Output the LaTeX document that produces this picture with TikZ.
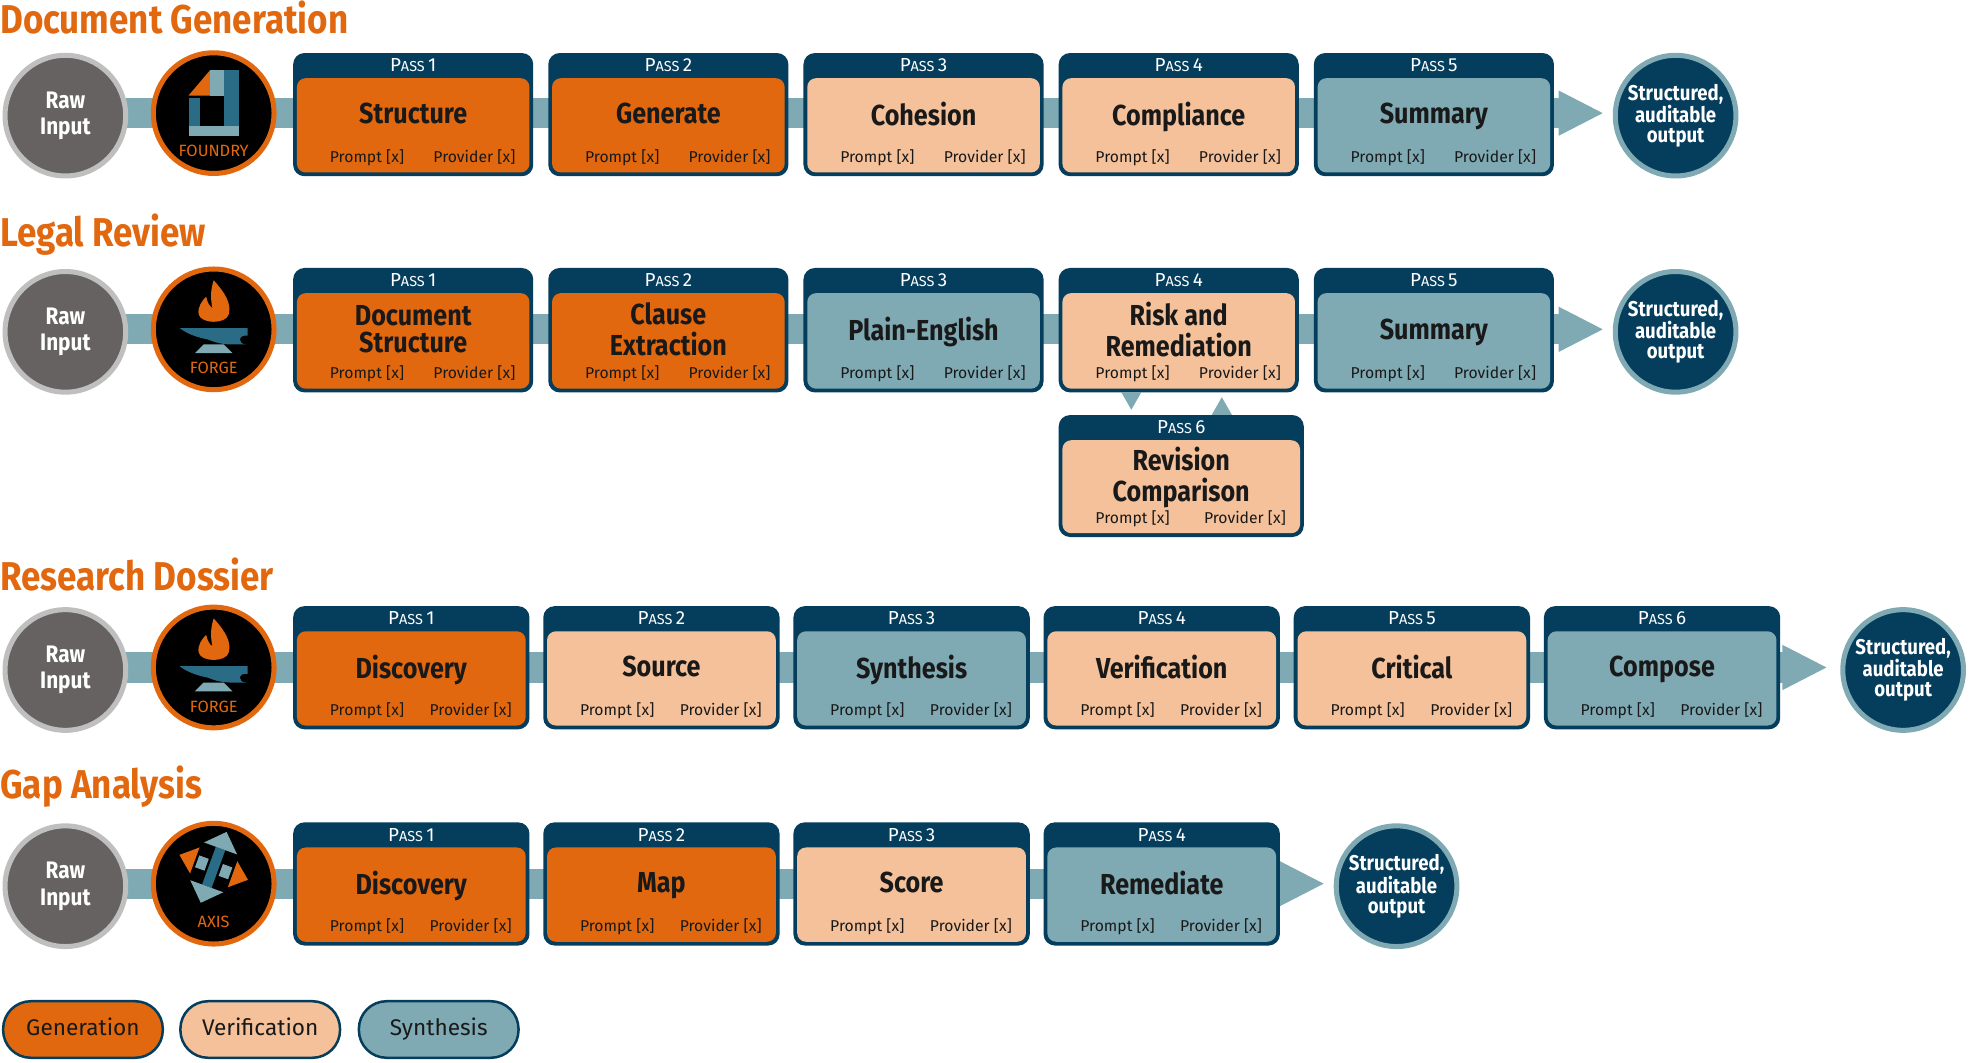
\documentclass[tikz,border=0pt]{standalone}
\usepackage{fontspec}
\setmainfont{Fira Sans}
\newfontfamily\cond{Fira Sans}[FakeStretch=0.87]
\usetikzlibrary{calc}
\definecolor{gen}{HTML}{E1680F}
\definecolor{ver}{HTML}{F4C19A}
\definecolor{syn}{HTML}{7FAAB3}
\definecolor{navy}{HTML}{053E5D}
\definecolor{rawg}{HTML}{666262}
\definecolor{rawb}{HTML}{BFBFBF}
\definecolor{dteal}{HTML}{2A6B86}
\tikzset{
 outer/.style={draw=none,fill=navy,rounded corners=9pt,inner sep=0},
 inner/.style={draw=none,rounded corners=7pt,inner sep=0},
 passlbl/.style={text=white,inner sep=0},
 ttl/.style={font=\cond\bfseries\fontsize{23}{21.5}\selectfont,align=center,inner sep=0,text=black!90},
 sm/.style={font=\fontsize{12.5}{12.5}\selectfont,inner sep=0,text=black!90},
 rawc/.style={circle,fill=rawg,draw=rawb,line width=4pt,minimum size=96pt,text=white,font=\cond\bfseries\fontsize{19}{21}\selectfont,align=center},
 iconc/.style={circle,fill=black,draw=gen,line width=4pt,minimum size=96pt},
 outc/.style={circle,fill=navy,draw=syn,line width=4pt,minimum size=96pt,text=white,font=\cond\bfseries\fontsize{17}{16}\selectfont,align=center,inner sep=0},
 band/.style={draw=syn,line width=24pt},
 sec/.style={anchor=west,text=gen,font=\cond\bfseries\fontsize{32}{32}\selectfont,inner sep=0},
 iconlbl/.style={text=gen,font=\fontsize{13}{13}\selectfont,inner sep=0},
 pill/.style={draw=navy,line width=2pt,rounded corners=22pt,minimum width=127pt,minimum height=45pt,font=\fontsize{18}{18}\selectfont,text=black!90,text height=13pt,text depth=4pt}
}
\newcommand\passtxt[1]{{\fontsize{15}{15}\selectfont P}{\fontsize{11.5}{11.5}\selectfont ASS}\ {\fontsize{15}{15}\selectfont #1}}
\newcommand\pbox[8]{%
 \node[outer,minimum width=#4pt,minimum height=#5pt,anchor=north west] (#1) at (#2,#3) {};
 \node[inner,fill=#6,minimum width=#4pt-6pt,minimum height=#5pt-23pt,anchor=south] (#1i) at ([yshift=3pt]#1.south) {};
 \node[passlbl] (#1p) at ([yshift=-10pt]#1.north) {\passtxt{#7}};
 \node[ttl] (#1t) at ([yshift=7pt]#1i.center) {\vphantom{Ag}#8\vphantom{Ag}};
 \node[sm,anchor=base] (#1a) at ([xshift=56pt,yshift=8pt]#1i.south west) {Prompt [x]};
 \node[sm,anchor=base] (#1b) at ([xshift=-44pt,yshift=8pt]#1i.south east) {Provider [x]};
}
\newcommand\foundry[1]{%
 \begin{scope}[shift={(#1)}]
 \fill[gen] (-20,-12) -- (-3,-32) -- (-3,-12) -- cycle;
 \fill[syn] (-3,-32) rectangle (8,-12);
 \fill[dteal] (8,-32) rectangle (20,12);
 \fill[dteal] (-20,-10) rectangle (-11,12);
 \fill[syn] (-20,12) rectangle (20,20);
 \end{scope}}
\newcommand\forge[1]{%
 \begin{scope}[shift={(#1)}]
 \fill[gen] (0,-33) .. controls (10,-22) and (14,-14) .. (12,-6) .. controls (10,2) and (-10,2) .. (-12,-6) .. controls (-13,-12) and (-9,-17) .. (-6,-20) .. controls (-5,-15) and (-3,-12) .. (-1,-11) .. controls (-3,-20) and (-2,-27) .. (0,-33) -- cycle;
 \fill[dteal] (-27,5) -- (27,5) -- (27,11) .. controls (19,10) and (19,18) .. (26,18) -- (14,18) .. controls (4,18) and (-2,15) .. (-5,14) .. controls (-15,12) and (-22,9) .. (-27,5) -- cycle;
 \fill[syn] (-8,18) -- (8,18) -- (15,25) -- (-15,25) -- cycle;
 \end{scope}}
\newcommand\axisicon[1]{%
 \begin{scope}[shift={(#1)},rotate=-20]
 \fill[dteal] (-4,-16) rectangle (4,16);
 \fill[syn] (-14,-16) -- (14,-16) -- (0,-30) -- cycle;
 \fill[syn] (-14,16) -- (14,16) -- (0,30) -- cycle;
 \fill[syn] (-14,-5) rectangle (-6,5);
 \fill[syn] (6,-5) rectangle (14,5);
 \fill[gen] (-16,-11) -- (-16,11) -- (-29,0) -- cycle;
 \fill[gen] (16,-11) -- (16,11) -- (29,0) -- cycle;
 \end{scope}}
\begin{document}
\begin{tikzpicture}[x=1pt,y=-1pt]
\useasboundingbox (0,0) rectangle (1568,845);
%%% Row 1
\node[sec] (s1) at (0,14) {Document Generation};
\draw[band] (52,90) -- (1242,90);
\fill[syn] (1240,72) -- (1275,90) -- (1240,108) -- cycle;
\node[rawc] (r1) at (52,92) {Raw\\Input};
\node[iconc] (i1) at (170,90) {};
\foundry{170,88}
\node[iconlbl] (l1) at (170,120) {FOUNDRY};
\pbox{a1}{233}{42}{191}{98}{gen}{1}{Structure}
\pbox{a2}{436}{42}{191}{98}{gen}{2}{Generate}
\pbox{a3}{639}{42}{191}{98}{ver}{3}{Cohesion}
\pbox{a4}{842}{42}{191}{98}{ver}{4}{Compliance}
\pbox{a5}{1045}{42}{191}{98}{syn}{5}{Summary}
\node[outc] (o1) at (1333,92) {Structured,\\auditable\\output};
%%% Row 2
\node[sec] (s2) at (0,187) {Legal Review};
\draw[band] (52,262) -- (1242,262);
\fill[syn] (1240,244) -- (1275,262) -- (1240,280) -- cycle;
\node[rawc] (r2) at (52,264) {Raw\\Input};
\node[iconc] (i2) at (170,262) {};
\forge{170,256}
\node[iconlbl] (l2) at (170,293) {FORGE};
\pbox{b1}{233}{213}{191}{99}{gen}{1}{Document\\Structure}
\pbox{b2}{436}{213}{191}{99}{gen}{2}{Clause\\Extraction}
\pbox{b3}{639}{213}{191}{99}{syn}{3}{Plain-English}
\pbox{b4}{842}{213}{191}{99}{ver}{4}{Risk and\\Remediation}
\pbox{b5}{1045}{213}{191}{99}{syn}{5}{Summary}
\node[outc] (o2) at (1333,264) {Structured,\\auditable\\output};
\pbox{b6}{842}{330}{195}{97}{ver}{6}{Revision\\Comparison}
\fill[syn] (892,312) -- (908,312) -- (900,326) -- cycle;
\fill[syn] (964,330) -- (980,330) -- (972,316) -- cycle;
%%% Row 3
\node[sec] (s3) at (0,457) {Research Dossier};
\draw[band] (52,531) -- (1420,531);
\fill[syn] (1418,513) -- (1453,531) -- (1418,549) -- cycle;
\node[rawc] (r3) at (52,533) {Raw\\Input};
\node[iconc] (i3) at (170,531) {};
\forge{170,525}
\node[iconlbl] (l3) at (170,562) {FORGE};
\pbox{c1}{233}{482}{188}{98}{gen}{1}{Discovery}
\pbox{c2}{432}{482}{188}{98}{ver}{2}{Source}
\pbox{c3}{631}{482}{188}{98}{syn}{3}{Synthesis}
\pbox{c4}{830}{482}{188}{98}{ver}{4}{Verification}
\pbox{c5}{1029}{482}{188}{98}{ver}{5}{Critical}
\pbox{c6}{1228}{482}{188}{98}{syn}{6}{Compose}
\node[outc] (o3) at (1514,533) {Structured,\\auditable\\output};
%%% Row 4
\node[sec] (s4) at (0,626) {Gap Analysis};
\draw[band] (52,703) -- (1020,703);
\fill[syn] (1018,685) -- (1053,703) -- (1018,721) -- cycle;
\node[rawc] (r4) at (52,705) {Raw\\Input};
\node[iconc] (i4) at (170,703) {};
\axisicon{170,690}
\node[iconlbl] (l4) at (170,733) {AXIS};
\pbox{d1}{233}{654}{188}{98}{gen}{1}{Discovery}
\pbox{d2}{432}{654}{188}{98}{gen}{2}{Map}
\pbox{d3}{631}{654}{188}{98}{ver}{3}{Score}
\pbox{d4}{830}{654}{188}{98}{syn}{4}{Remediate}
\node[outc] (o4) at (1111,705) {Structured,\\auditable\\output};
%%% Legend
\node[pill,fill=gen] (g) at (66,819) {Generation};
\node[pill,fill=ver] (v) at (207,819) {Verification};
\node[pill,fill=syn] (y) at (349,819) {Synthesis};
\end{tikzpicture}
\end{document}
